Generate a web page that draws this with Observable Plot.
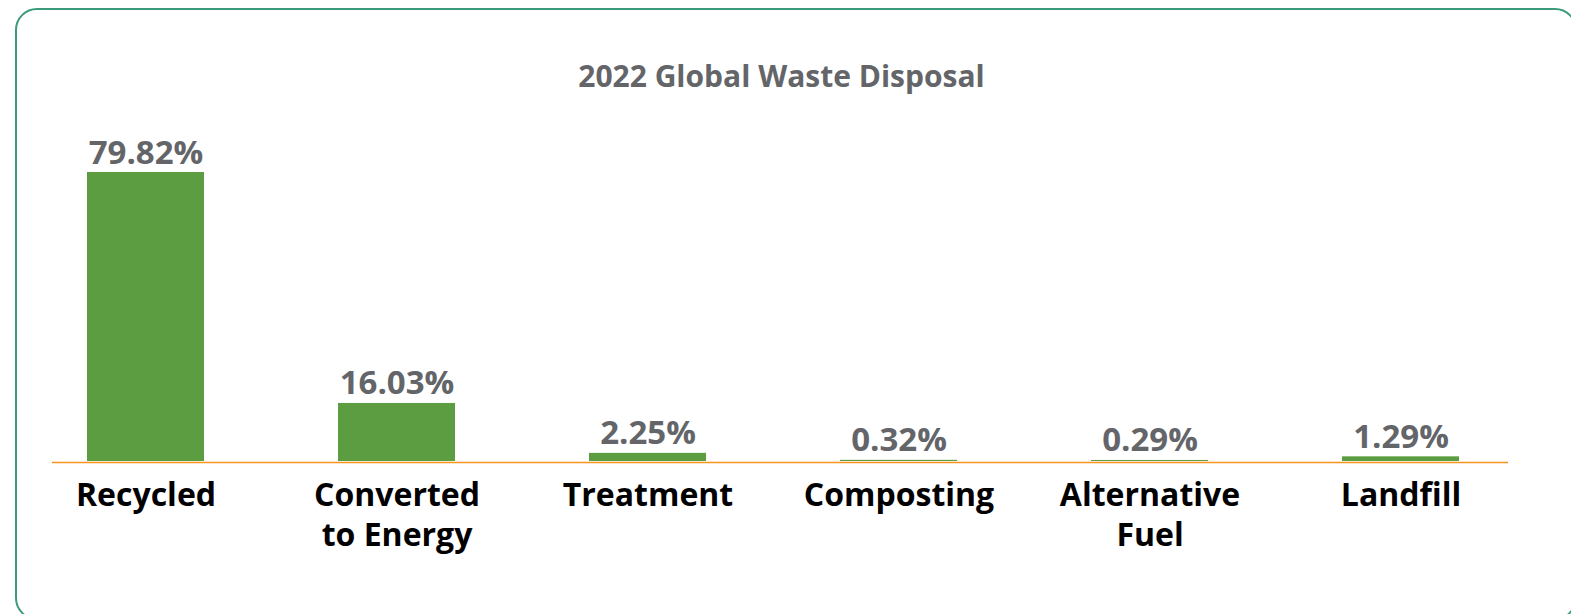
<!DOCTYPE html>
<html><head><meta charset="utf-8">
<script src="https://cdn.jsdelivr.net/npm/d3@7"></script>
<script src="https://cdn.jsdelivr.net/npm/@observablehq/plot@0.6"></script>
<style>
body{margin:0;background:#fff;}
#wrap{position:relative;width:1571px;height:614px;overflow:hidden;font-family:"Open Sans",Lato,sans-serif;}
#frame{position:absolute;left:15px;top:8px;width:1562px;height:612px;border:2px solid #3b9a7b;border-radius:22px;box-sizing:border-box;}
#title{position:absolute;left:0;width:1563px;top:61px;text-align:center;font-weight:700;font-size:30px;line-height:30px;color:#636569;margin:0;}
#chart{position:absolute;left:0;top:0;}
</style></head>
<body>
<div id="wrap">
  <div id="frame"></div>
  <h2 id="title">2022 Global Waste Disposal</h2>
  <div id="chart"></div>
</div>
<script>
const categories = ["Recycled", "Converted to Energy", "Treatment", "Composting", "Alternative Fuel", "Landfill"];
const values = [79.82, 16.03, 2.25, 0.32, 0.29, 1.29];
const tickLabels = ["Recycled", "Converted\nto Energy", "Treatment", "Composting", "Alternative\nFuel", "Landfill"];

const data = categories.map((c, i) => ({category: c, value: values[i]}));

const chart = Plot.plot({
  width: 1571,
  height: 614,
  marginLeft: 52,
  marginRight: 63,
  marginTop: 0,
  marginBottom: 153,
  style: {fontFamily: "'Open Sans', Lato, sans-serif", background: "transparent", overflow: "visible"},
  x: {domain: categories, range: [19, 1526], paddingInner: 0.534, paddingOuter: 0.267, label: null},
  y: {domain: [0, 79.82], range: [461, 172], axis: null},
  marks: [
    Plot.ruleY([0], {stroke: "#f7941d", strokeWidth: 1.5, dy: 1}),
    Plot.barY(data, {x: "category", y: "value", fill: "#5c9d42"}),
    Plot.text(data, {x: "category", y: "value", text: d => d.value.toFixed(2) + "%", dy: -9, lineAnchor: "bottom", fontSize: 33, fontWeight: 700, fill: "#636569"}),
    Plot.axisX({tickSize: 0, tickPadding: 16, fontSize: 32, fontWeight: 700, lineHeight: 1.25, fill: "#000",
      tickFormat: d => tickLabels[categories.indexOf(d)], label: null})
  ]
});
document.getElementById("chart").appendChild(chart);
</script>
</body></html>
